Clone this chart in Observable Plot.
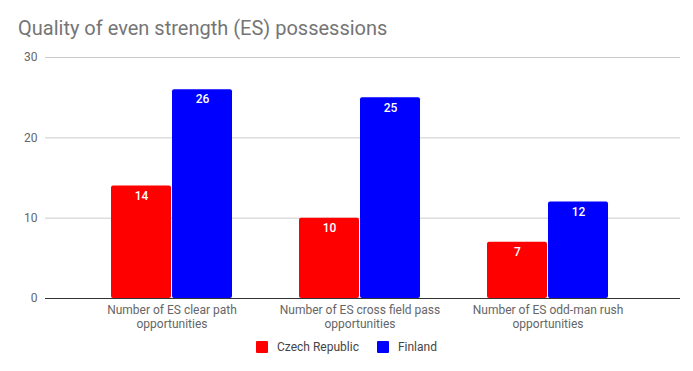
<!DOCTYPE html>
<html>
<head>
<meta charset="utf-8">
<script src="https://cdn.jsdelivr.net/npm/d3@7"></script>
<script src="https://cdn.jsdelivr.net/npm/@observablehq/plot@0.6"></script>
<style>
  body { margin: 0; background: #fff; font-family: Roboto, sans-serif; }
  #wrap { width: 693px; height: 371px; position: relative; overflow: hidden; }
  #title { position: absolute; left: 18px; top: 16px; font-size: 20px; color: #757575; white-space: nowrap; }
  #chart { position: absolute; left: 0; top: 45px; }
  #legend { position: absolute; left: 0; top: 340px; width: 693px; display: flex; justify-content: center; align-items: center; font-size: 12px; color: #222; }
  .item { display: flex; align-items: center; margin: 0 9px; color: #444; }
  .sw { width: 12px; height: 12px; margin-right: 9px; border-radius: 1px; }
</style>
</head>
<body>
<div id="wrap">
  <div id="title">Quality of even strength (ES) possessions</div>
  <div id="chart"></div>
  <div id="legend"></div>
</div>
<script>
const categories = [
  "Number of ES clear path\nopportunities",
  "Number of ES cross field pass\nopportunities",
  "Number of ES odd-man rush\nopportunities"
];
const seriesNames = ["Czech Republic", "Finland"];
const seriesColors = ["#ff0000", "#0000ff"];
const czech = [14, 10, 7];
const finland = [26, 25, 12];
const yTicks = [0, 10, 20, 30];

const czData = categories.map((c, i) => ({cat: c, value: czech[i]}));
const fiData = categories.map((c, i) => ({cat: c, value: finland[i]}));

const chart = Plot.plot({
  width: 693,
  height: 292,
  marginLeft: 45,
  marginRight: 13,
  marginTop: 12,
  marginBottom: 39,
  style: {fontFamily: "Roboto, sans-serif", fontSize: "12px", color: "#666"},
  x: {domain: categories, range: [44, 676], padding: 0.356, label: null},
  y: {domain: [0, 30], label: null},
  marks: [
    Plot.ruleY(yTicks.filter(d => d > 0), {stroke: "#cccccc", strokeWidth: 1}),
    Plot.axisY({ticks: yTicks, tickSize: 0, tickPadding: 8, label: null, fill: "#666", fontSize: 12}),
    Plot.axisX({tickSize: 0, tickPadding: 5, label: null, fill: "#666", fontSize: 12, lineHeight: 1.2}),
    Plot.barY(czData, {x: "cat", y: "value", fill: seriesColors[0], insetRight: 61, rx: 2}),
    Plot.barY(fiData, {x: "cat", y: "value", fill: seriesColors[1], insetLeft: 61, rx: 2}),
    Plot.text(czData, {x: "cat", y: "value", text: d => String(d.value), dx: -30.5, dy: 10, fill: "white", fontWeight: 500, fontSize: 12}),
    Plot.text(fiData, {x: "cat", y: "value", text: d => String(d.value), dx: 30.5, dy: 10, fill: "white", fontWeight: 500, fontSize: 12}),
    Plot.ruleY([0], {stroke: "#333333", strokeWidth: 1})
  ]
});
document.getElementById("chart").appendChild(chart);

const legend = document.getElementById("legend");
seriesNames.forEach((n, i) => {
  const it = document.createElement("div");
  it.className = "item";
  const sw = document.createElement("div");
  sw.className = "sw";
  sw.style.background = seriesColors[i];
  const t = document.createElement("span");
  t.textContent = n;
  it.appendChild(sw);
  it.appendChild(t);
  legend.appendChild(it);
});
</script>
</body>
</html>
